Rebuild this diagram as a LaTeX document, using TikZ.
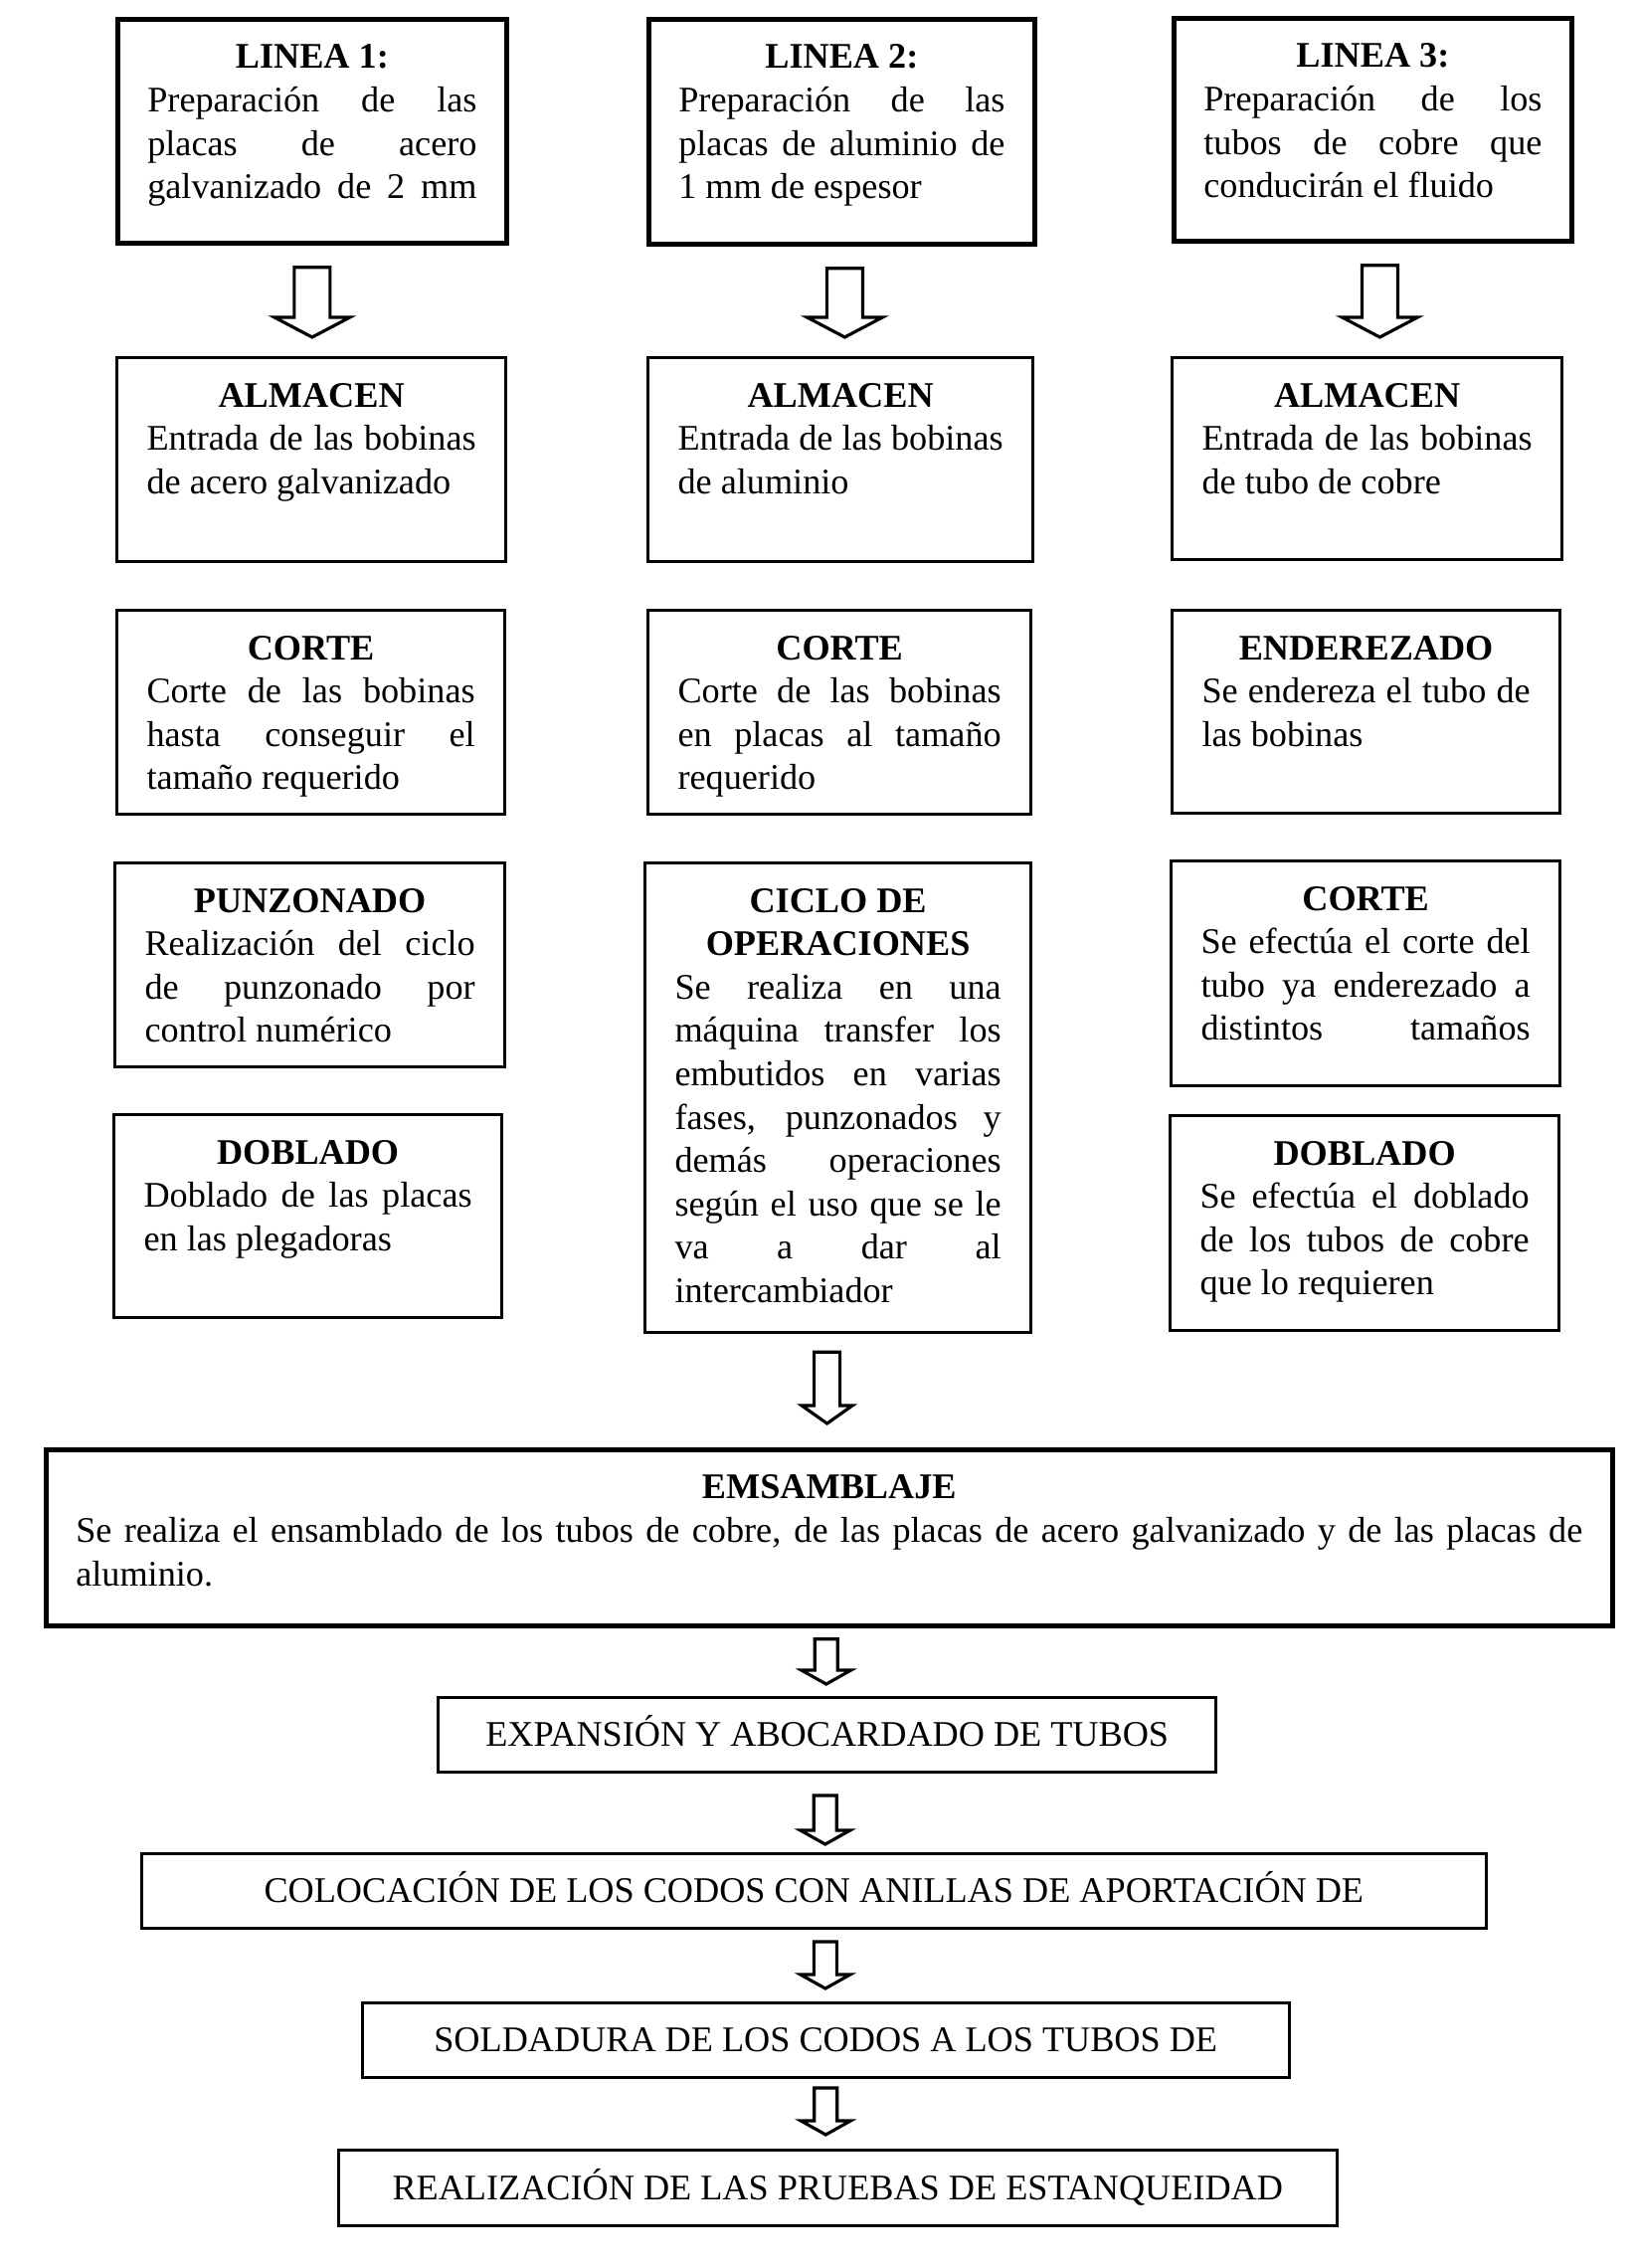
\documentclass[tikz,border=0pt]{standalone}
\usepackage{fontspec}
\setmainfont{Liberation Serif}
\usetikzlibrary{calc}
\newcommand\ttl[1]{\makebox[\linewidth]{\bfseries #1}}
\newcommand\jus[1]{\makebox[\linewidth][s]{#1}}
\newcommand\boxtext[3]{\parbox[t][#2][t]{#1}{\strut#3}}
\tikzset{
  blk/.style={draw, line width=0.85pt, anchor=north west, inner xsep=0.3cm, inner ysep=0.19cm,
              font=\fontsize{10.3}{12.4}\selectfont},
  blkhd/.style={blk, line width=1.3pt},
  etapa/.style={draw, line width=0.85pt, anchor=north west, inner sep=0pt,
                text height=6.8pt, text depth=0pt, font=\fontsize{10.3}{12.4}\selectfont},
  blockarr/.style n args={3}{draw, line width=0.9pt, line join=miter,
    to path={let \p1=(\tikztostart), \p2=(\tikztotarget) in
      (\x1-#1,\y1) -- (\x1-#1,\y2+#3) -- (\x1-#2,\y2+#3) -- (\x1,\y2)
      -- (\x1+#2,\y2+#3) -- (\x1+#1,\y2+#3) -- (\x1+#1,\y1) -- cycle}},
  barr/.style={blockarr={0.18cm}{0.38cm}{0.2cm}},
  carr/.style={blockarr={0.13cm}{0.255cm}{0.18cm}},
  sarr/.style={blockarr={0.115cm}{0.25cm}{0.14cm}},
}

\begin{document}
\begin{tikzpicture}[x=0.01cm, y=-0.01cm]
  \useasboundingbox (0,0) rectangle (1647,2280);
  \node[blkhd] (l1) at (116,17) {\boxtext{3.31cm}{1.87cm}{\ttl{LINEA 1:}\\
    \jus{Preparación de las}\\ \jus{placas de acero}\\ \jus{galvanizado de 2 mm}}};
  \node[blkhd] (l2) at (650,17) {\boxtext{3.28cm}{1.88cm}{\ttl{LINEA 2:}\\
    \jus{Preparación de las}\\ \jus{placas de aluminio de}\\ 1 mm de espesor}};
  \node[blkhd] (l3) at (1178,16) {\boxtext{3.40cm}{1.86cm}{\ttl{LINEA 3:}\\
    \jus{Preparación de los}\\ \jus{tubos de cobre que}\\ conducirán el fluido}};

  \node[blk] (a1) at (116,358) {\boxtext{3.31cm}{1.67cm}{\ttl{ALMACEN}\\
    \jus{Entrada de las bobinas}\\ de acero galvanizado}};
  \node[blk] (a2) at (650,358) {\boxtext{3.27cm}{1.67cm}{\ttl{ALMACEN}\\
    \jus{Entrada de las bobinas}\\ de aluminio}};
  \node[blk] (a3) at (1177,358) {\boxtext{3.32cm}{1.65cm}{\ttl{ALMACEN}\\
    \jus{Entrada de las bobinas}\\ de tubo de cobre}};

  \node[blk] (c1) at (116,612) {\boxtext{3.30cm}{1.67cm}{\ttl{CORTE}\\
    \jus{Corte de las bobinas}\\ \jus{hasta conseguir el}\\ tamaño requerido}};
  \node[blk] (c2) at (650,612) {\boxtext{3.25cm}{1.67cm}{\ttl{CORTE}\\
    \jus{Corte de las bobinas}\\ \jus{en placas al tamaño}\\ requerido}};
  \node[blk] (e3) at (1177,612) {\boxtext{3.30cm}{1.66cm}{\ttl{ENDEREZADO}\\
    \jus{Se endereza el tubo de}\\ las bobinas}};

  \node[blk] (p1) at (114,866) {\boxtext{3.32cm}{1.67cm}{\ttl{PUNZONADO}\\
    \jus{Realización del ciclo}\\ \jus{de punzonado por}\\ control numérico}};
  \node[blk] (o2) at (647,866) {\boxtext{3.28cm}{4.34cm}{\ttl{CICLO DE}\\ \ttl{OPERACIONES}\\
    \jus{Se realiza en una}\\ \jus{máquina transfer los}\\ \jus{embutidos en varias}\\
    \jus{fases, punzonados y}\\ \jus{demás operaciones}\\ \jus{según el uso que se le}\\
    \jus{va a dar al}\\ intercambiador}};
  \node[blk] (c3) at (1176,864) {\boxtext{3.31cm}{1.88cm}{\ttl{CORTE}\\
    \jus{Se efectúa el corte del}\\ \jus{tubo ya enderezado a}\\ \jus{distintos tamaños}}};

  \node[blk] (d1) at (113,1119) {\boxtext{3.30cm}{1.66cm}{\ttl{DOBLADO}\\
    \jus{Doblado de las placas}\\ en las plegadoras}};
  \node[blk] (d3) at (1175,1120) {\boxtext{3.31cm}{1.78cm}{\ttl{DOBLADO}\\
    \jus{Se efectúa el doblado}\\ \jus{de los tubos de cobre}\\ que lo requieren}};

  \node[blkhd] (ems) at (44,1455) {\boxtext{15.14cm}{1.39cm}{\ttl{EMSAMBLAJE}\\
    \jus{Se realiza el ensamblado de los tubos de cobre, de las placas de acero galvanizado y de las placas de}\\
    aluminio.}};

  \node[etapa, minimum width=7.82cm, minimum height=0.75cm] (exp) at (439,1705) {EXPANSIÓN Y ABOCARDADO DE TUBOS};
  \node[etapa, minimum width=13.51cm, minimum height=0.75cm] (col) at (141,1862) {COLOCACIÓN DE LOS CODOS CON ANILLAS DE APORTACIÓN DE};
  \node[etapa, minimum width=9.31cm, minimum height=0.75cm] (sol) at (363,2012) {SOLDADURA DE LOS CODOS A LOS TUBOS DE};
  \node[etapa, minimum width=10.03cm, minimum height=0.76cm] (rea) at (339,2160) {REALIZACIÓN DE LAS PRUEBAS DE ESTANQUEIDAD};

  \foreach \c/\s in {1/0, 2/0.03, 3/0.07}
    \draw[barr] ([xshift=\s cm, yshift=-0.22cm]l\c.south) to ([yshift=0.19cm]a\c.north);
  \draw[carr] ([xshift=-0.11cm, yshift=-0.18cm]o2.south) to ([yshift=0.24cm]ems.north);
  \foreach \a/\b/\s/\g/\h in {ems/exp/-0.03/0.11/0.12, exp/col/-0.02/0.22/0.08, col/sol/0.115/0.12/0.13, sol/rea/0/0.09/0.14}
    \draw[sarr] ([xshift=\s cm, yshift=-\g cm]\a.south) to ([yshift=\h cm]\b.north);
\end{tikzpicture}
\end{document}
